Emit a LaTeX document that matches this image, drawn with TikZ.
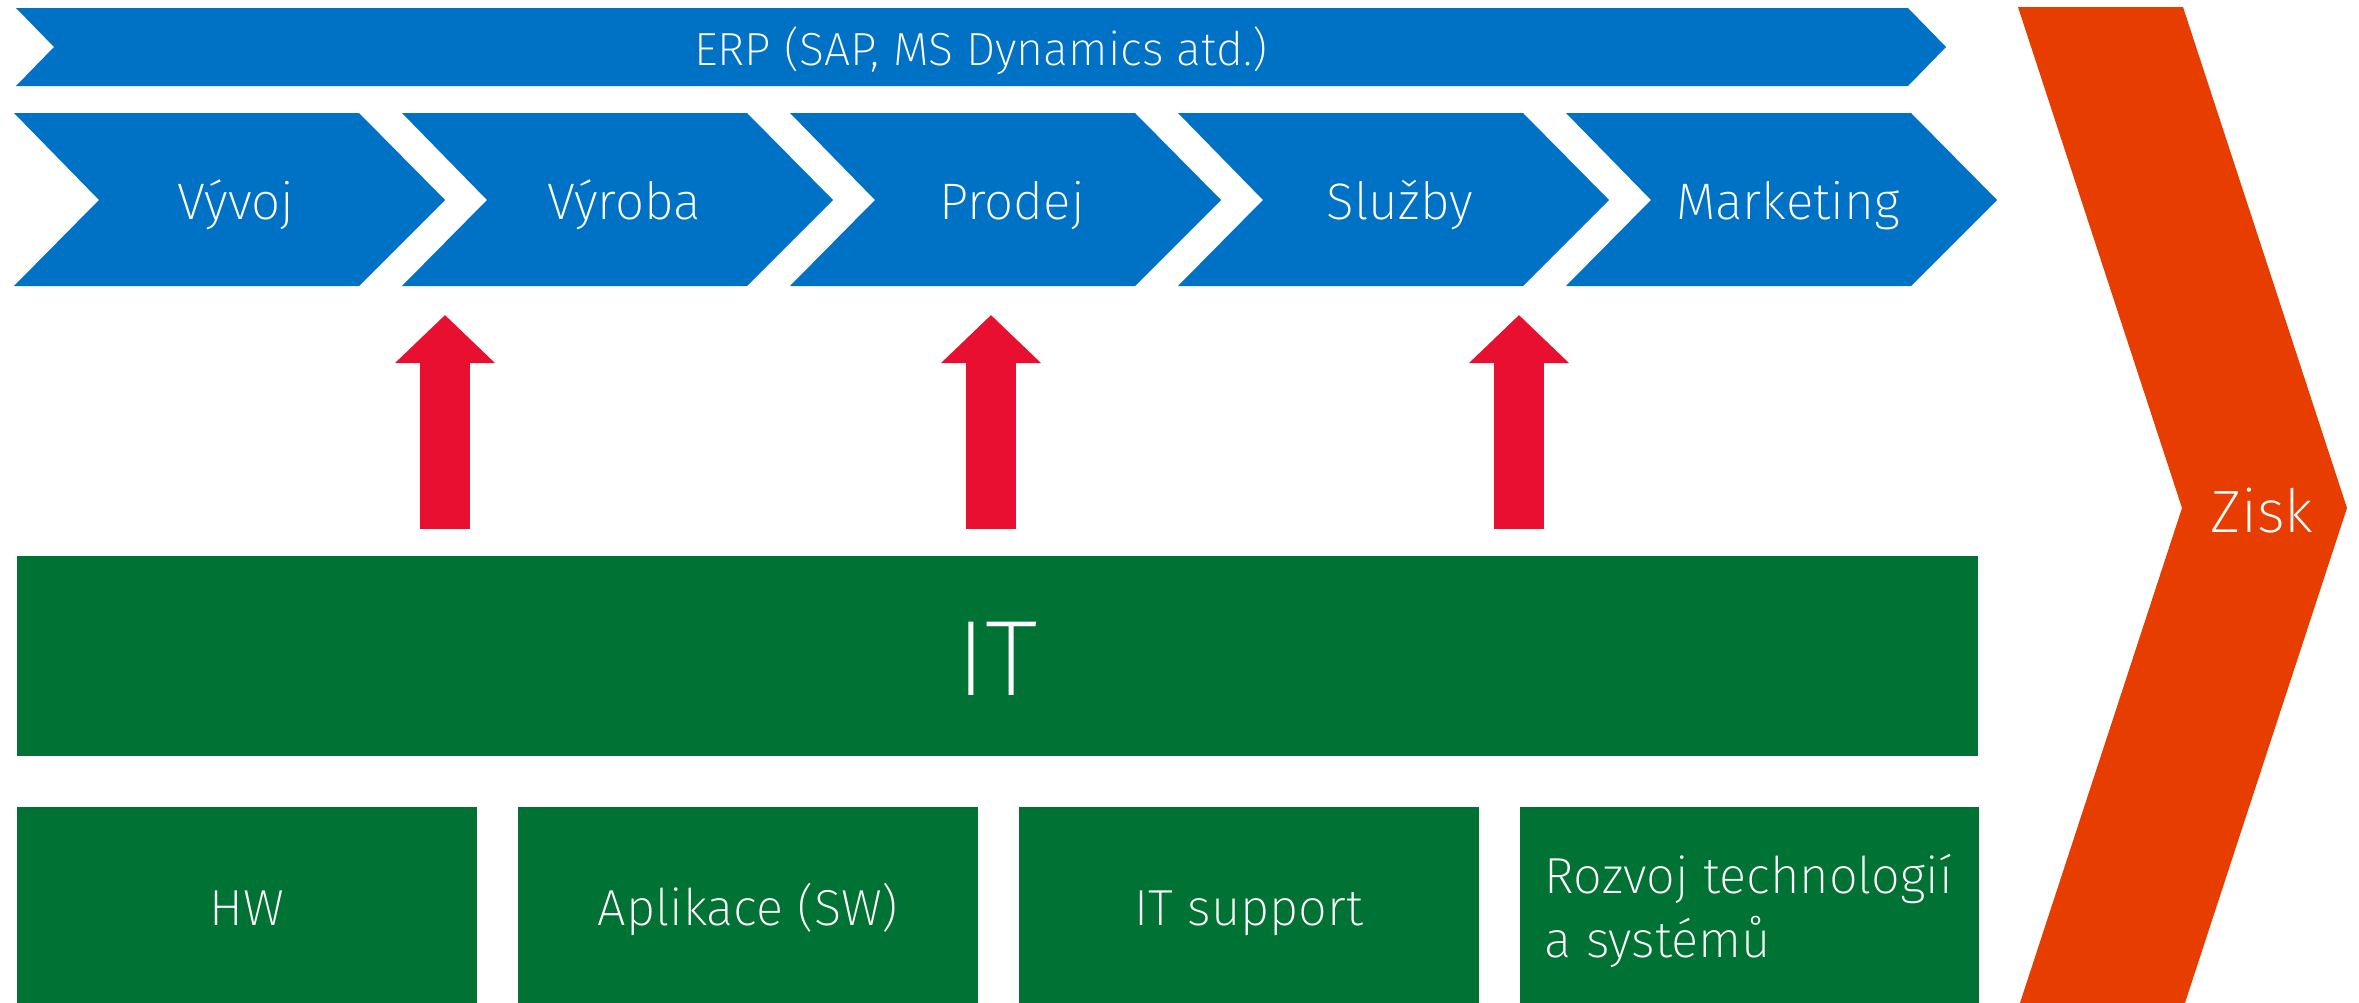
\documentclass[tikz,border=0pt]{standalone}
\usepackage{fontspec}
\setmainfont{Fira Sans ExtraLight}
\usetikzlibrary{arrows.meta}
\definecolor{chevblue}{HTML}{0072C6}
\definecolor{itgreen}{HTML}{007234}
\definecolor{arrowred}{HTML}{E80F30}
\definecolor{ziskorange}{HTML}{E83D00}

\begin{document}
\begin{tikzpicture}[x=0.01cm,y=-0.01cm,
  every node/.style={text=white,inner sep=0pt,anchor=base},
  chev/.style={fill=chevblue},
  itbox/.style={fill=itgreen},
  uparrow/.style={draw=arrowred,line width=0.49cm,-{Triangle[length=0.48cm,width=0.97cm]}},
  small/.style={font=\fontsize{14.6}{18}\selectfont},
  boxtext/.style={font=\fontsize{14.4}{18}\selectfont}]
\useasboundingbox (0,0) rectangle (2359,1003);

% ERP band
\fill[chev] (16,8) -- (1908,8) -- (1946,47) -- (1908,86) -- (16,86) -- (54,47) -- cycle;
\node[font=\fontsize{13.2}{16}\selectfont] (erp) at (981,65) {ERP (SAP, MS Dynamics atd.)};

% process chevrons
\foreach \name [count=\i from 0] in {Vývoj,Výroba,Prodej,Služby,Marketing}{
  \fill[chev] (14+388*\i,113) -- ++(345,0) -- ++(86,87) -- ++(-86,86) -- ++(-345,0) -- ++(85,-86) -- cycle;
  \node[small] (proc\i) at (236+388*\i,219) {\name};
}

% IT supports the processes
\foreach \ax [count=\j] in {445,991,1519}{
  \coordinate (from\j) at (\ax,529);
  \coordinate (to\j) at (\ax,315);
  \draw[uparrow] (from\j) -- (to\j);
}

% IT
\fill[itbox] (17,556) rectangle (1978,756);
\node[font=\fontsize{30.5}{36}\selectfont] (it) at (997,695) {IT};

\foreach \txt [count=\k from 0] in {HW,Aplikace (SW),IT support}{
  \fill[itbox] (17+501*\k,807) rectangle ++(460,200);
  \node[boxtext] (part\k) at (247+501*\k,925) {\txt};
}
\fill[itbox] (1520,807) rectangle (1979,1007);
\node[boxtext] (part3) at (1749,893) {Rozvoj technologií};
\node[boxtext,anchor=base west] (part3b) at ([yshift=-0.64cm]part3.base west) {a systémů};

% Zisk
\fill[ziskorange] (2018,7) -- (2183,7) -- (2347,508) -- (2183,1009) -- (2018,1009) -- (2182,508) -- cycle;
\node[font=\fontsize{17}{22}\selectfont] (zisk) at (2262,532) {Zisk};
\end{tikzpicture}
\end{document}
